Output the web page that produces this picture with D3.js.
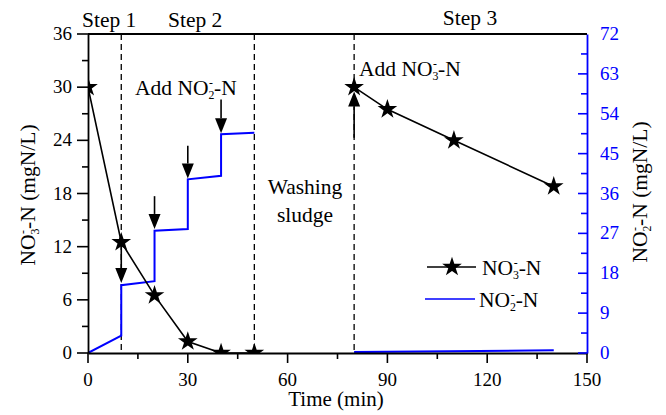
<!DOCTYPE html>
<html><head><meta charset="utf-8">
<script src="https://cdn.jsdelivr.net/npm/d3@7"></script>
<style>body{margin:0;background:#fff}svg{display:block}</style>
</head><body><svg id="c" width="666" height="415" font-family="'Liberation Serif', 'DejaVu Serif', serif"></svg>
<script>
// ---- data ----
const no3Time1 = [0, 10, 20, 30, 40, 50];
const no3Val1  = [30, 12.5, 6.5, 1.3, 0, 0];
const no3Time2 = [80, 90, 110, 140];
const no3Val2  = [30, 27.5, 24, 18.8];
const no2Time1 = [0, 10, 10, 20, 20, 30, 30, 40, 40, 50];
const no2Val1  = [0, 3.9, 15.3, 16.2, 27.6, 28, 39.2, 40, 49.4, 49.7];
const no2Time2 = [80, 140];
const no2Val2  = [0.2, 0.6];
const dashTimes = [10, 50, 80];
const arrowDown = [[10, 12.3, 7.9], [20, 17.7, 14.0], [30, 23.4, 19.7], [40, 28.6, 24.8]]; // time, from, to (left units)
const arrowUp = [[80, 24.3, 29.5]];
const xTicks = [0, 30, 60, 90, 120, 150];
const yLeftTicks = [0, 6, 12, 18, 24, 30, 36];
const yRightTicks = [0, 9, 18, 27, 36, 45, 54, 63, 72];

const svg = d3.select("#c");
const L = 88, R = 587, T = 34, B = 353;
const x = d3.scaleLinear().domain([0, 150]).range([L, R]);
const y = d3.scaleLinear().domain([0, 36]).range([B, T]);
const y2 = d3.scaleLinear().domain([0, 72]).range([B, T]);
const blue = "#0000ff";
const FS = 19, AF = 21.5;

svg.append("defs").append("clipPath").attr("id", "clip")
  .append("rect").attr("x", L).attr("y", T).attr("width", R - L).attr("height", B - T);

// dashed lines
svg.append("g").selectAll("line").data(dashTimes).join("line")
  .attr("x1", d => x(d)).attr("x2", d => x(d)).attr("y1", T).attr("y2", B)
  .attr("stroke", "#000").attr("stroke-width", 1.3).attr("stroke-dasharray", "6,4");

const plot = svg.append("g").attr("clip-path", "url(#clip)");
const line = d3.line().x(d => x(d[0])).y(d => d[2] ? y2(d[1]) : y(d[1]));

// NO2
[[no2Time1, no2Val1], [no2Time2, no2Val2]].forEach(([t, v]) => {
  plot.append("path").attr("d", line(t.map((d, i) => [d, v[i], true])))
    .attr("fill", "none").attr("stroke", blue).attr("stroke-width", 2);
});
// NO3
const star = d3.symbol().type(d3.symbolStar).size(120);
[[no3Time1, no3Val1], [no3Time2, no3Val2]].forEach(([t, v]) => {
  const pts = t.map((d, i) => [d, v[i]]);
  plot.append("path").attr("d", line(pts)).attr("fill", "none").attr("stroke", "#000").attr("stroke-width", 1.6);
  plot.selectAll(null).data(pts).join("path").attr("d", star)
    .attr("transform", d => `translate(${x(d[0])},${y(d[1])})`).attr("fill", "#000");
});

// arrows
function arrow(t, from, to) {
  const xp = x(t), y0 = y(from), y1 = y(to);
  const dir = y1 > y0 ? 1 : -1;
  const hl = 15, hw = 6;
  svg.append("line").attr("x1", xp).attr("x2", xp).attr("y1", y0).attr("y2", y1 - dir * hl)
    .attr("stroke", "#000").attr("stroke-width", 1.6);
  svg.append("path").attr("d", `M${xp - hw},${y1 - dir * hl}L${xp + hw},${y1 - dir * hl}L${xp},${y1}Z`).attr("fill", "#000");
}
arrowDown.forEach(a => arrow(...a));
arrowUp.forEach(a => arrow(...a));

// axes
const gx = svg.append("g").attr("transform", `translate(0,${B})`);
gx.call(d3.axisBottom(x).tickValues([]).tickSize(0));
gx.attr("font-family", null).attr("font-size", null);
gx.select(".domain").attr("stroke-width", 1.8);
gx.selectAll(null).data(d3.range(0, 151, 15)).join("line")
  .attr("x1", d => x(d)).attr("x2", d => x(d)).attr("y1", 0).attr("y2", d => d % 30 === 0 ? 10 : 6)
  .attr("stroke", "#000").attr("stroke-width", 1.6);
gx.selectAll(null).data(xTicks).join("text").attr("x", d => x(d)).attr("y", 33)
  .attr("text-anchor", "middle").attr("font-size", FS).attr("fill", "#000").text(d => d);

const gy = svg.append("g").attr("transform", `translate(${L},0)`);
gy.call(d3.axisLeft(y).tickValues([]).tickSize(0));
gy.attr("font-family", null).attr("font-size", null);
gy.select(".domain").attr("stroke-width", 1.8);
gy.selectAll(null).data(d3.range(0, 37, 3)).join("line")
  .attr("y1", d => y(d)).attr("y2", d => y(d)).attr("x1", 0).attr("x2", d => d % 6 === 0 ? -11 : -6)
  .attr("stroke", "#000").attr("stroke-width", 1.6);
gy.selectAll(null).data(yLeftTicks).join("text").attr("x", -16).attr("y", d => y(d) + 6)
  .attr("text-anchor", "end").attr("font-size", FS).attr("fill", "#000").text(d => d);

const gr = svg.append("g").attr("transform", `translate(${R},0)`);
gr.call(d3.axisRight(y2).tickValues([]).tickSize(0));
gr.attr("font-family", null).attr("font-size", null);
gr.select(".domain").attr("stroke", blue).attr("stroke-width", 1.8);
gr.selectAll(null).data(d3.range(0, 72.1, 4.5)).join("line")
  .attr("y1", d => y2(d)).attr("y2", d => y2(d)).attr("x1", 0).attr("x2", d => d % 9 === 0 ? -9 : -6)
  .attr("stroke", blue).attr("stroke-width", 1.6);
gr.selectAll(null).data(yRightTicks).join("text").attr("x", 13).attr("y", d => y2(d) + 6)
  .attr("fill", blue).attr("font-size", FS).text(d => d);

// top border
svg.append("line").attr("x1", L).attr("x2", R).attr("y1", T).attr("y2", T).attr("stroke", "#000").attr("stroke-width", 1.8);

// chemistry label helper: subscript with superscript minus stacked above it
function chem(sel, sub, before, after) {
  sel.append("tspan").text(before);
  sel.append("tspan").attr("font-size", "0.55em").attr("dy", "0.35em").text(sub);
  sel.append("tspan").attr("font-size", "0.55em").attr("dx", "-0.45em").attr("dy", "-1.0em").text("-");
  sel.append("tspan").attr("dx", "0.05em").attr("dy", "0.36em").text(after);
}

// titles
const tl = svg.append("text").attr("transform", "translate(35,195) rotate(-90)").attr("text-anchor", "middle").attr("font-size", AF);
chem(tl, "3", "NO", "-N (mgN/L)");
const tr = svg.append("text").attr("transform", "translate(647,192) rotate(-90)").attr("text-anchor", "middle").attr("font-size", AF);
chem(tr, "2", "NO", "-N (mgN/L)");
svg.append("text").attr("x", 336).attr("y", 406).attr("text-anchor", "middle").attr("font-size", 21).text("Time (min)");

// annotations
svg.append("text").attr("x", 82).attr("y", 27).attr("font-size", AF).text("Step 1");
svg.append("text").attr("x", 168).attr("y", 27).attr("font-size", AF).text("Step 2");
svg.append("text").attr("x", 470).attr("y", 25).attr("text-anchor", "middle").attr("font-size", AF).text("Step 3");
const a2 = svg.append("text").attr("x", 135).attr("y", 95).attr("font-size", AF);
chem(a2, "2", "Add NO", "-N");
const a3 = svg.append("text").attr("x", 359).attr("y", 76).attr("font-size", AF);
chem(a3, "3", "Add NO", "-N");
svg.append("text").attr("x", 305).attr("y", 194).attr("text-anchor", "middle").attr("font-size", AF).text("Washing");
svg.append("text").attr("x", 305).attr("y", 222).attr("text-anchor", "middle").attr("font-size", AF).text("sludge");

// legend
const lg = svg.append("g");
lg.append("line").attr("x1", 427).attr("x2", 476).attr("y1", 267).attr("y2", 267).attr("stroke", "#000").attr("stroke-width", 1.6);
lg.append("path").attr("d", star).attr("transform", "translate(452,267)");
const l1 = lg.append("text").attr("x", 482).attr("y", 275).attr("font-size", AF);
chem(l1, "3", "NO", "-N");
lg.append("line").attr("x1", 425).attr("x2", 475).attr("y1", 299).attr("y2", 299).attr("stroke", blue).attr("stroke-width", 1.6);
const l2 = lg.append("text").attr("x", 479).attr("y", 307).attr("font-size", AF);
chem(l2, "2", "NO", "-N");
</script></body></html>
